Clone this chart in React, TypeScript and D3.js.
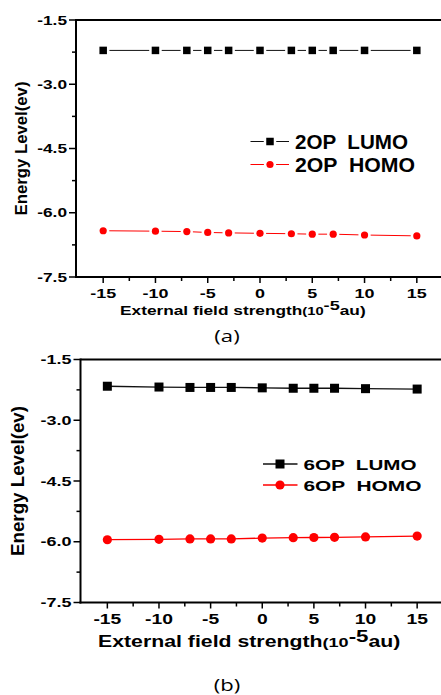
import React from "react";
import * as d3 from "d3";

// Applied external field (10^-5 au) and frontier orbital energies (eV)
const fieldStrength = [-15, -10, -7, -5, -3, 0, 3, 5, 7, 10, 15];
const lumo2OP = [-2.21, -2.21, -2.21, -2.21, -2.21, -2.21, -2.21, -2.21, -2.21, -2.21, -2.21];
const homo2OP = [-6.42, -6.43, -6.44, -6.46, -6.47, -6.48, -6.49, -6.5, -6.5, -6.52, -6.54];
const lumo6OP = [-2.16, -2.18, -2.19, -2.19, -2.19, -2.2, -2.21, -2.21, -2.21, -2.22, -2.23];
const homo6OP = [-5.95, -5.94, -5.93, -5.93, -5.93, -5.91, -5.9, -5.895, -5.89, -5.88, -5.86];

const yMajorTicks = [-7.5, -6.0, -4.5, -3.0, -1.5];
const yMinorTicks = [-6.75, -5.25, -3.75, -2.25];
const xMajorTicks = [-15, -10, -5, 0, 5, 10, 15];
const xMinorTicks = [-12.5, -7.5, -2.5, 2.5, 7.5, 12.5, 17.5];

const FONT = "'Liberation Sans', Arial, sans-serif";
const RED = "#ff0000";

type PanelProps = {
  left: number;
  right: number;
  top: number;
  bottom: number;
  lumo: number[];
  homo: number[];
  gapped: boolean;
  sq: number;
  cr: number;
  lineW: number;
  tickSize: number;
  xTickSize: number;
  titleSize: number;
  titleX: number;
  titleY: number;
  supRaise: number;
  yTitleX: number;
  yTitleSize: number;
  yTitleLen: number;
  legend: {
    x0: number;
    x1: number;
    mx: number;
    y1: number;
    y2: number;
    tx: number;
    size: number;
    len1: number;
    len2: number;
    name: string;
  };
  caption: string;
  captionY: number;
};

function segments(pts: [number, number][], gap: number) {
  const out: [number, number, number, number][] = [];
  for (let i = 0; i < pts.length - 1; i++) {
    const [x1, y1] = pts[i];
    const [x2, y2] = pts[i + 1];
    const dx = x2 - x1;
    const dy = y2 - y1;
    const len = Math.hypot(dx, dy);
    if (len <= gap * 2) continue;
    const ux = dx / len;
    const uy = dy / len;
    out.push([x1 + ux * gap, y1 + uy * gap, x2 - ux * gap, y2 - uy * gap]);
  }
  return out;
}

function Panel(p: PanelProps) {
  const x = d3.scaleLinear().domain([-17.6, 17.6]).range([p.left, p.right]);
  const y = d3.scaleLinear().domain([-7.5, -1.5]).range([p.bottom, p.top]);
  const sx = 1.33;

  const lumoPts: [number, number][] = fieldStrength.map((f, i) => [x(f), y(p.lumo[i])]);
  const homoPts: [number, number][] = fieldStrength.map((f, i) => [x(f), y(p.homo[i])]);
  const line = d3.line();

  const renderSeries = (pts: [number, number][], color: string, half: number) =>
    p.gapped ? (
      segments(pts, half + 2.5).map((s, i) => (
        <line key={i} x1={s[0]} y1={s[1]} x2={s[2]} y2={s[3]} stroke={color} strokeWidth={p.lineW} />
      ))
    ) : (
      <path d={line(pts) || ""} fill="none" stroke={color} strokeWidth={p.lineW} />
    );

  const lg = p.legend;
  const half = p.sq / 2;

  return (
    <g>
      {/* series */}
      <g>{renderSeries(lumoPts, "#111", half)}</g>
      <g>{renderSeries(homoPts, RED, p.cr)}</g>
      {lumoPts.map(([px, py], i) => (
        <rect key={"s" + i} x={px - half} y={py - half} width={p.sq} height={p.sq} fill="#000" />
      ))}
      {homoPts.map(([px, py], i) => (
        <circle key={"c" + i} cx={px} cy={py} r={p.cr} fill={RED} />
      ))}

      {/* axes frame */}
      <line x1={p.left} x2={441} y1={p.top} y2={p.top} stroke="#000" strokeWidth={2} />
      <line x1={p.left} x2={p.left} y1={p.top - 1} y2={p.bottom + 1} stroke="#000" strokeWidth={2} />
      <line x1={p.left - 1} x2={441} y1={p.bottom} y2={p.bottom} stroke="#000" strokeWidth={2} />

      {yMajorTicks.map((t) => (
        <g key={"ym" + t}>
          <line x1={p.left - 7} x2={p.left} y1={y(t)} y2={y(t)} stroke="#000" strokeWidth={1.5} />
          <text
            transform={`translate(${p.left - 9},${y(t) + 4.7}) scale(${sx},1)`}
            textAnchor="end"
            fontFamily={FONT}
            fontWeight="bold"
            fontSize={p.tickSize}
          >
            {t.toFixed(1)}
          </text>
        </g>
      ))}
      {yMinorTicks.map((t) => (
        <line key={"yn" + t} x1={p.left - 4} x2={p.left} y1={y(t)} y2={y(t)} stroke="#000" strokeWidth={1.5} />
      ))}
      {xMajorTicks.map((t) => (
        <g key={"xm" + t}>
          <line x1={x(t)} x2={x(t)} y1={p.bottom} y2={p.bottom + 6} stroke="#000" strokeWidth={1.5} />
          <text
            transform={`translate(${x(t)},${p.bottom + 21}) scale(${sx},1)`}
            textAnchor="middle"
            fontFamily={FONT}
            fontWeight="bold"
            fontSize={p.xTickSize}
          >
            {String(t)}
          </text>
        </g>
      ))}
      {xMinorTicks.map((t) => (
        <line key={"xn" + t} x1={x(t)} x2={x(t)} y1={p.bottom} y2={p.bottom + 4} stroke="#000" strokeWidth={1.5} />
      ))}

      {/* x-axis title */}
      <text
        transform={`translate(${p.titleX},${p.titleY}) scale(${sx},1)`}
        fontFamily={FONT}
        fontWeight="bold"
        fontSize={p.titleSize}
      >
        External field strength
        <tspan fontSize={p.titleSize * 0.85}>(10</tspan>
        <tspan fontSize={p.titleSize * 1.05} dy={-p.supRaise}>
          -5
        </tspan>
        <tspan dy={p.supRaise}>au)</tspan>
      </text>

      {/* y-axis title */}
      <text
        transform={`translate(${p.yTitleX},${(p.top + p.bottom) / 2}) rotate(-90)`}
        textAnchor="middle"
        fontFamily={FONT}
        fontWeight="bold"
        fontSize={p.yTitleSize}
        textLength={p.yTitleLen}
        lengthAdjust="spacingAndGlyphs"
      >
        Energy Level(ev)
      </text>

      {/* legend */}
      {p.gapped ? (
        <g>
          <line x1={lg.x0} x2={lg.mx - half - 2.5} y1={lg.y1} y2={lg.y1} stroke="#111" strokeWidth={p.lineW} />
          <line x1={lg.mx + half + 2.5} x2={lg.x1} y1={lg.y1} y2={lg.y1} stroke="#111" strokeWidth={p.lineW} />
          <line x1={lg.x0} x2={lg.mx - p.cr - 2.5} y1={lg.y2} y2={lg.y2} stroke={RED} strokeWidth={p.lineW} />
          <line x1={lg.mx + p.cr + 2.5} x2={lg.x1} y1={lg.y2} y2={lg.y2} stroke={RED} strokeWidth={p.lineW} />
        </g>
      ) : (
        <g>
          <line x1={lg.x0} x2={lg.x1} y1={lg.y1} y2={lg.y1} stroke="#111" strokeWidth={p.lineW} />
          <line x1={lg.x0} x2={lg.x1} y1={lg.y2} y2={lg.y2} stroke={RED} strokeWidth={p.lineW} />
        </g>
      )}
      <rect x={lg.mx - half} y={lg.y1 - half} width={p.sq} height={p.sq} fill="#000" />
      <circle cx={lg.mx} cy={lg.y2} r={p.cr} fill={RED} />
      <text
        x={lg.tx}
        y={lg.y1 + lg.size * 0.36}
        fontFamily={FONT}
        fontWeight="bold"
        fontSize={lg.size}
        textLength={lg.len1}
        lengthAdjust="spacingAndGlyphs"
        style={{ whiteSpace: "pre" }}
      >
        {`${lg.name}  LUMO`}
      </text>
      <text
        x={lg.tx}
        y={lg.y2 + lg.size * 0.36}
        fontFamily={FONT}
        fontWeight="bold"
        fontSize={lg.size}
        textLength={lg.len2}
        lengthAdjust="spacingAndGlyphs"
        style={{ whiteSpace: "pre" }}
      >
        {`${lg.name}  HOMO`}
      </text>

      {/* panel caption */}
      <text
        transform={`translate(227,${p.captionY}) scale(1.3,1)`}
        textAnchor="middle"
        fontFamily="'Open Sans', sans-serif"
        fontSize={17}
      >
        {p.caption}
      </text>
    </g>
  );
}

export default function App() {
  return (
    <svg
      width={441}
      height={695}
      style={{ position: "absolute", left: 0, top: 0, background: "#fff" }}
    >
      <rect width={441} height={695} fill="#fff" />
      <Panel
        left={76}
        right={444}
        top={20}
        bottom={277}
        lumo={lumo2OP}
        homo={homo2OP}
        gapped={true}
        sq={7.5}
        cr={3.6}
        lineW={1}
        tickSize={13}
        xTickSize={13.5}
        titleSize={13}
        titleX={120}
        titleY={315}
        supRaise={5}
        yTitleX={26.5}
        yTitleSize={16}
        yTitleLen={134}
        legend={{ x0: 250.5, x1: 289, mx: 270, y1: 141.5, y2: 164.5, tx: 295, size: 19.5, len1: 113, len2: 120, name: "2OP" }}
        caption="(a)"
        captionY={342}
      />
      <Panel
        left={80.5}
        right={444}
        top={359.5}
        bottom={602.5}
        lumo={lumo6OP}
        homo={homo6OP}
        gapped={false}
        sq={9}
        cr={4.6}
        lineW={1.3}
        tickSize={13.5}
        xTickSize={14.5}
        titleSize={16}
        titleX={98}
        titleY={646.5}
        supRaise={4.5}
        yTitleX={24}
        yTitleSize={18}
        yTitleLen={150}
        legend={{ x0: 263, x1: 297.5, mx: 280, y1: 464, y2: 485, tx: 303.5, size: 15.5, len1: 113, len2: 118, name: "6OP" }}
        caption="(b)"
        captionY={691}
      />
    </svg>
  );
}
